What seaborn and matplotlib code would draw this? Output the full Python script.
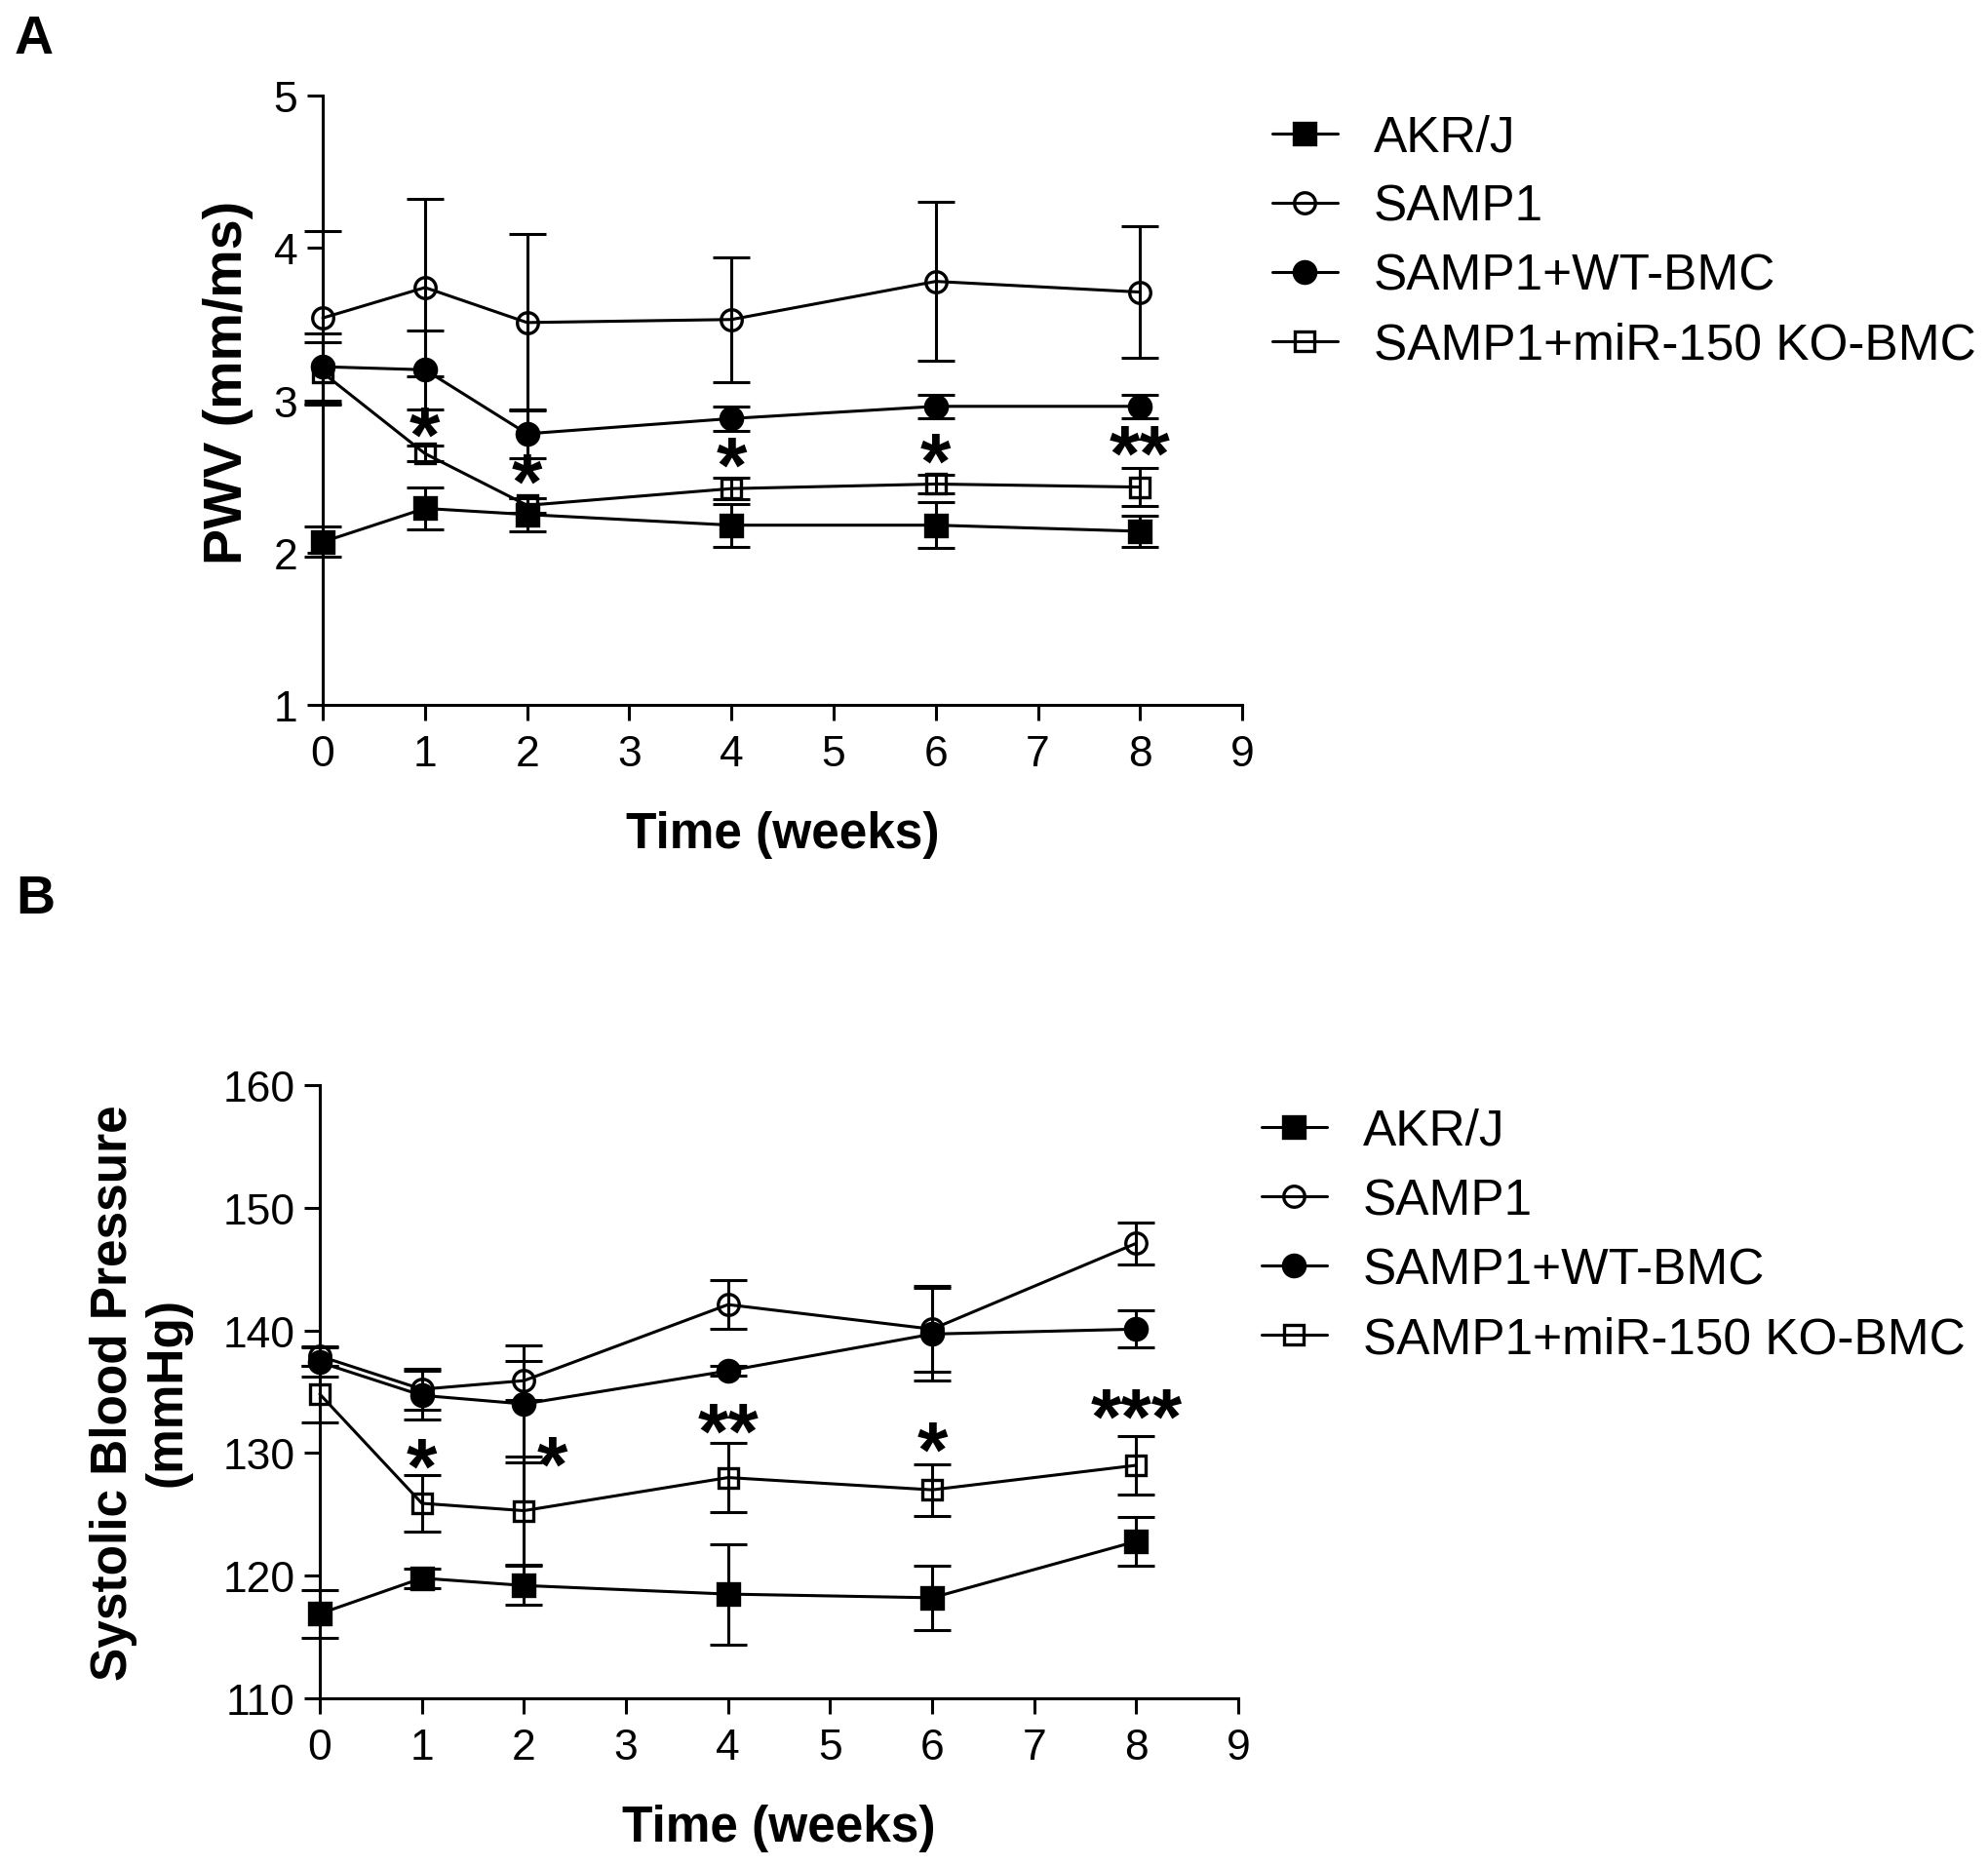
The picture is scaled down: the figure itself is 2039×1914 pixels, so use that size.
import numpy as np
import matplotlib
matplotlib.use("Agg")
import matplotlib.pyplot as plt
import seaborn as sns

weeks = [0, 1, 2, 4, 6, 8]
groups = ["AKR/J", "SAMP1", "SAMP1+WT-BMC", "SAMP1+miR-150 KO-BMC"]

# panel A: pulse wave velocity (mean, sem)
pwv_akr = [2.07, 2.29, 2.25, 2.18, 2.18, 2.14]
pwv_akr_sem = [0.10, 0.14, 0.11, 0.14, 0.15, 0.10]
pwv_samp = [3.54, 3.74, 3.51, 3.53, 3.78, 3.71]
pwv_samp_sem = [0.57, 0.58, 0.58, 0.41, 0.52, 0.43]
pwv_wt = [3.22, 3.20, 2.78, 2.88, 2.96, 2.96]
pwv_wt_sem = [0.22, 0.26, 0.16, 0.08, 0.075, 0.075]
pwv_ko = [3.18, 2.65, 2.31, 2.42, 2.45, 2.43]
pwv_ko_sem = [0.20, 0.05, 0.05, 0.07, 0.06, 0.125]
pwv_star_x = [1, 2, 4, 6, 8]
pwv_star_y = [2.83, 2.52, 2.63, 2.66, 2.71]
pwv_star_txt = ["*", "*", "*", "*", "**"]

# panel B: systolic blood pressure (mean, sem)
sbp_akr = [116.9, 119.8, 119.2, 118.5, 118.2, 122.8]
sbp_akr_sem = [1.95, 0.8, 1.6, 4.1, 2.6, 1.95]
sbp_samp = [137.9, 135.2, 135.9, 142.1, 140.1, 147.1]
sbp_samp_sem = [0.8, 1.7, 1.6, 2.0, 3.5, 1.7]
sbp_wt = [137.4, 134.7, 134.0, 136.7, 139.7, 140.1]
sbp_wt_sem = [1.2, 2.0, 4.75, 0.4, 3.8, 1.5]
sbp_ko = [134.8, 125.9, 125.3, 128.0, 127.0, 129.0]
sbp_ko_sem = [2.3, 2.3, 4.4, 2.85, 2.1, 2.4]
sbp_star_x = [1, 2.28, 4, 6, 8]
sbp_star_y = [129.6, 129.8, 132.5, 131.0, 133.7]
sbp_star_txt = ["*", "*", "**", "*", "***"]

sns.set_style("ticks")
plt.rcParams["font.family"] = ["Liberation Sans", "DejaVu Sans"]
plt.rcParams.update({"text.color": "black", "axes.labelcolor": "black",
                     "xtick.color": "black", "ytick.color": "black",
                     "axes.edgecolor": "black"})

styles = [
    dict(marker="s", markersize=15.5, markerfacecolor="black"),
    dict(marker="o", markersize=15.5, markerfacecolor="none"),
    dict(marker="o", markersize=16, markerfacecolor="black"),
    dict(marker="s", markersize=14, markerfacecolor="none"),
]

fig = plt.figure(figsize=(20.4, 19.15), dpi=100)
axA = fig.add_axes([0.1623, 0.6219, 0.4623, 0.3264])
axB = fig.add_axes([0.1608, 0.0898, 0.4618, 0.3285])

STAR_SIZE = 58


def draw_panel(ax, means, sems, ylim, yticks, ylabel, ylabel_size,
               sx, sy, stxt, leg_anchor):
    for name, m, s, st in zip(groups, means, sems, styles):
        eb = ax.errorbar(weeks, m, yerr=s, fmt="none", ecolor="black",
                         elinewidth=2.2, capsize=14, capthick=2.2, zorder=2)
        for art in eb.get_children():
            art.set_clip_on(False)
        sns.lineplot(x=weeks, y=m, color="black", linewidth=2.2,
                     markeredgecolor="black", markeredgewidth=2.4,
                     label=name, ax=ax, clip_on=False, zorder=3,
                     errorbar=None, **st)
    for x, y, t in zip(sx, sy, stxt):
        ax.annotate(t, xy=(x, y), xytext=(0, -0.44 * STAR_SIZE),
                    textcoords="offset points", ha="center", va="baseline",
                    fontsize=STAR_SIZE, fontweight="bold")
    ax.set_xlim(0, 9)
    ax.set_ylim(*ylim)
    ax.set_xticks(range(10))
    ax.set_yticks(yticks)
    sns.despine(ax=ax)
    for sp in ["left", "bottom"]:
        ax.spines[sp].set_linewidth(2.2)
    ax.tick_params(width=2.2, length=11.5, labelsize=32, pad=7)
    ax.tick_params(axis="x", pad=10)
    ax.set_xlabel("Time (weeks)", fontsize=37, fontweight="bold", labelpad=27)
    ax.set_ylabel(ylabel, fontsize=ylabel_size, fontweight="bold",
                  linespacing=1.15)
    h, l = ax.get_legend_handles_labels()
    ax.legend(h, l, loc="upper left", bbox_to_anchor=leg_anchor,
              bbox_transform=fig.transFigure, frameon=False, fontsize=37,
              handlelength=1.3, handletextpad=0.72, labelspacing=0.43,
              borderpad=0, borderaxespad=0)


draw_panel(axA, [pwv_akr, pwv_samp, pwv_wt, pwv_ko],
           [pwv_akr_sem, pwv_samp_sem, pwv_wt_sem, pwv_ko_sem],
           (1, 5), [1, 2, 3, 4, 5], "PWV (mm/ms)", 40,
           pwv_star_x, pwv_star_y, pwv_star_txt, (0.6397, 0.9386))
axA.yaxis.set_label_coords(-0.075, 0.53)

draw_panel(axB, [sbp_akr, sbp_samp, sbp_wt, sbp_ko],
           [sbp_akr_sem, sbp_samp_sem, sbp_wt_sem, sbp_ko_sem],
           (110, 160), [110, 120, 130, 140, 150, 160],
           "Systolic Blood Pressure\n(mmHg)", 37,
           sbp_star_x, sbp_star_y, sbp_star_txt, (0.6343, 0.4063))
axB.yaxis.set_label_coords(-0.14, 0.5)

fig.text(15 / 2040, 1 - 15 / 1915, "A", ha="left", va="top",
         fontsize=40, fontweight="bold")
fig.text(16 / 2040, 1 - 897 / 1915, "B", ha="left", va="top",
         fontsize=40, fontweight="bold")

fig.savefig("out.png", dpi=100, facecolor="white")
